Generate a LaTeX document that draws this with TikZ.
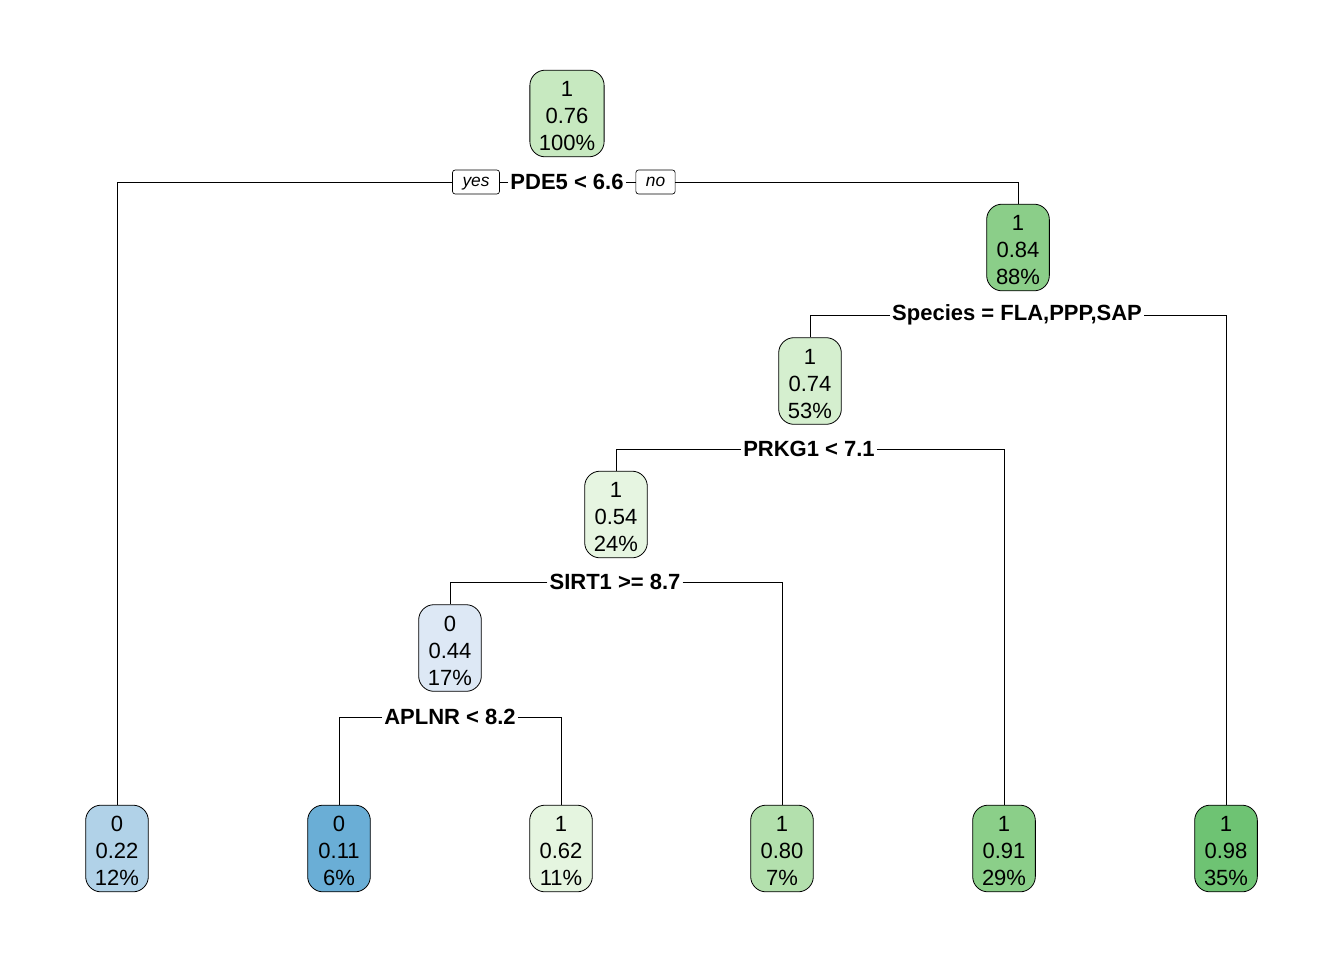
\documentclass[tikz,border=0pt]{standalone}
\usepackage{fontspec}
\setmainfont{Liberation Sans}
\definecolor{gnA}{HTML}{C7E9C0}
\definecolor{gnB}{HTML}{8BCE89}
\definecolor{gnC}{HTML}{D5EFCF}
\definecolor{gnD}{HTML}{E6F5E1}
\definecolor{gnE}{HTML}{E5F5E0}
\definecolor{gnF}{HTML}{B3E0AD}
\definecolor{gnG}{HTML}{8BCF89}
\definecolor{gnH}{HTML}{6EC373}
\definecolor{buA}{HTML}{DDE8F5}
\definecolor{buB}{HTML}{B1D2E8}
\definecolor{buC}{HTML}{6AAED6}
% three lines of a tree node: class, probability, share
\newcommand{\cellt}[3]{\rule{0pt}{15.6pt}#1\\#2\\#3}

\begin{document}
\begin{tikzpicture}[x=0.75pt,y=-0.75pt,
    box/.style={draw, line width=0.6pt, rounded corners=11.5pt, align=center,
      minimum width=47pt, minimum height=65pt, inner xsep=6.75pt, inner ysep=2pt,
      font=\fontsize{16.5}{20.25}\selectfont},
    split/.style={font=\bfseries\fontsize{16.5}{20}\selectfont, inner xsep=1.5pt, inner ysep=1pt},
    yn/.style={draw, line width=0.5pt, rounded corners=2pt, minimum height=18pt,
      inner xsep=7.5pt, inner ysep=1pt, text depth=0pt, font=\itshape\fontsize{13}{15}\selectfont},
    edge/.style={line width=0.6pt}]
  \fill[white] (0,0) rectangle (1344,960);
  \useasboundingbox (0,0) rectangle (1344,960);

  % inner nodes
  \node[box, fill=gnA] (root) at (567,113.5) {\cellt{1}{0.76}{100\%}};
  \node[box, fill=gnB] (n2) at (1018,247.5) {\cellt{1}{0.84}{88\%}};
  \node[box, fill=gnC] (n3) at (810,381) {\cellt{1}{0.74}{53\%}};
  \node[box, fill=gnD] (n4) at (616,514.5) {\cellt{1}{0.54}{24\%}};
  \node[box, fill=buA] (n5) at (450,648) {\cellt{0}{0.44}{17\%}};

  % leaves
  \node[box, fill=buB] (l1) at (117,848.5) {\cellt{0}{0.22}{12\%}};
  \node[box, fill=buC] (l2) at (339,848.5) {\cellt{0}{0.11}{6\%}};
  \node[box, fill=gnE] (l3) at (561,848.5) {\cellt{1}{0.62}{11\%}};
  \node[box, fill=gnF] (l4) at (782,848.5) {\cellt{1}{0.80}{7\%}};
  \node[box, fill=gnG] (l5) at (1004,848.5) {\cellt{1}{0.91}{29\%}};
  \node[box, fill=gnH] (l6) at (1226,848.5) {\cellt{1}{0.98}{35\%}};

  % split labels
  \node[split] (s1) at (567,182) {PDE5 < 6.6};
  \node[split] (s2) at (1017,315) {Species = FLA,PPP,SAP};
  \node[split] (s3) at (809,449) {PRKG1 < 7.1};
  \node[split] (s4) at (615,582) {SIRT1 >= 8.7};
  \node[split] (s5) at (450,717) {APLNR < 8.2};

  \node[yn] (yes) at (476,182) {yes};
  \node[yn] (no) at (655.5,182) {no};

  \draw[edge] (s1) -- (yes);
  \draw[edge] (s1) -- (no);
  \draw[edge] (yes) -| (l1);
  \draw[edge] (no) -| (n2);
  \draw[edge] (s2) -| (n3);
  \draw[edge] (s2) -| (l6);
  \draw[edge] (s3) -| (n4);
  \draw[edge] (s3) -| (l5);
  \draw[edge] (s4) -| (n5);
  \draw[edge] (s4) -| (l4);
  \draw[edge] (s5) -| (l2);
  \draw[edge] (s5) -| (l3);
\end{tikzpicture}
\end{document}
